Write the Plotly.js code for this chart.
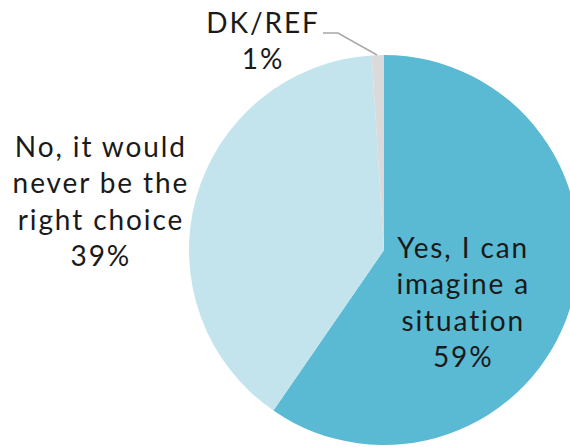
<!DOCTYPE html>
<html>
<head>
<meta charset="utf-8">
<script src="https://cdn.plot.ly/plotly-3.0.1.min.js"></script>
<style>
html, body { margin: 0; padding: 0; overflow: hidden; background: #fff; width: 570px; height: 447px; }
#chart { width: 600px; height: 447px; }
#chart .annotation-text { letter-spacing: 1.9px; }
</style>
</head>
<body>
<div id="chart"></div>
<script>
const categories = ["Yes, I can imagine a situation", "No, it would never be the right choice", "DK/REF"];
const values = [59, 39, 1];
const pctLabels = ["59%", "39%", "1%"];
const labelText = ["Yes, I can<br>imagine a<br>situation", "No, it would<br>never be the<br>right choice", "DK/REF"];
const colors = ["#5ab9d3", "#c3e4ed", "#dadada"];

const W = 600, H = 447;
const px = x => x / W;
const py = y => 1 - y / H;
const FONT = "Lato, 'Noto Sans', sans-serif";

const trace = {
  type: "pie",
  labels: categories,
  values: values,
  sort: false,
  direction: "clockwise",
  rotation: 0,
  textinfo: "none",
  hoverinfo: "label+percent",
  marker: { colors: colors, line: { color: "#ffffff", width: 0 } },
  domain: { x: [px(189), px(579)], y: [py(445), py(55)] },
  showlegend: false
};

const labelPos = [
  { x: 463, y: 301 },
  { x: 101, y: 200 },
  { x: 263, y: 40 }
];

const annotations = categories.map((c, i) => ({
  xref: "paper", yref: "paper",
  x: px(labelPos[i].x), y: py(labelPos[i].y),
  xanchor: "center", yanchor: "middle",
  text: labelText[i] + "<br>" + pctLabels[i],
  showarrow: false,
  align: "center",
  font: { family: FONT, size: 28, color: "#1a1a1a" }
}));

const layout = {
  width: W, height: H,
  margin: { l: 0, r: 0, t: 0, b: 0 },
  paper_bgcolor: "#ffffff",
  annotations: annotations,
  shapes: [{
    type: "path", xref: "paper", yref: "paper",
    path: `M ${px(323)} ${py(33)} L ${px(338)} ${py(33)} L ${px(377)} ${py(55)}`,
    line: { color: "#a8a8a8", width: 1.5 }
  }]
};

Plotly.newPlot("chart", [trace], layout, { displayModeBar: false, staticPlot: true });
</script>
</body>
</html>
